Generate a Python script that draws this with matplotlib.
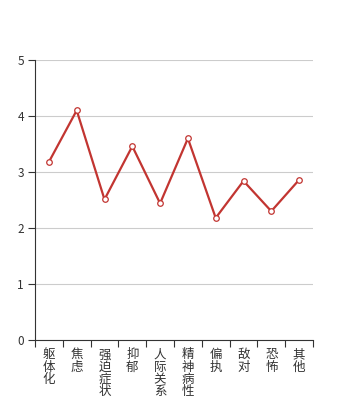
import numpy as np
import matplotlib.pyplot as plt

plt.rcParams['font.family'] = ['Noto Sans CJK SC', 'DejaVu Sans']

categories = ["躯体化", "焦虑", "强迫症状", "抑郁", "人际关系", "精神病性", "偏执", "敌对", "恐怖", "其他"]
values = [3.18, 4.10, 2.51, 3.46, 2.44, 3.60, 2.18, 2.84, 2.30, 2.86]
y_ticks = [0, 1, 2, 3, 4, 5]

fig = plt.figure(figsize=(3.48, 4.0), dpi=100)
ax = fig.add_axes([35 / 348, 60 / 400, 278 / 348, 280 / 400])

x = np.arange(len(categories))
ax.plot(x, values, color="#c23531", linewidth=1.6, marker="o", markersize=4,
        markerfacecolor="white", markeredgecolor="#c23531", markeredgewidth=0.9,
        zorder=3, clip_on=False)

ax.set_xlim(-0.5, len(categories) - 0.5)
ax.set_ylim(0, 5)
ax.set_yticks(y_ticks)
ax.yaxis.grid(True, color="#cccccc", linewidth=0.8)
ax.set_axisbelow(True)

# category labels stacked vertically, ticks on band edges
ax.set_xticks(x)
ax.set_xticklabels(["\n".join(c) for c in categories], fontsize=9,
                   linespacing=0.93, va="top", color="#333333")
ax.set_xticks(np.arange(len(categories) + 1) - 0.5, minor=True)
ax.tick_params(axis="x", which="major", length=0, pad=6)
ax.tick_params(axis="x", which="minor", length=5, width=0.8, color="#333333")
ax.tick_params(axis="y", length=5, width=0.8, color="#333333", labelsize=8.5,
               labelcolor="#333333", pad=3)

for s in ["top", "right"]:
    ax.spines[s].set_visible(False)
for s in ["left", "bottom"]:
    ax.spines[s].set_color("#333333")
    ax.spines[s].set_linewidth(0.8)

fig.savefig("out.png", dpi=100)
